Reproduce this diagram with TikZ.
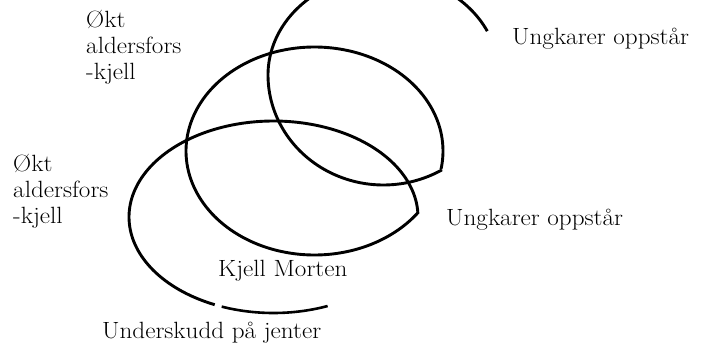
\documentclass[tikz,border=0pt]{standalone}
\begin{document}
\begin{tikzpicture}[x=1pt,y=-1pt,
  spiral/.style={line width=2.9pt, line join=round, line cap=butt},
  lbl/.style={inner sep=0pt, font=\fontsize{23.5}{26}\selectfont, align=left, xscale=1.07, transform shape}]
\useasboundingbox (0,0) rectangle (702,343);
\begin{scope}
\clip (0,0) rectangle (702,343);
% loop A (top): centre (383.5,75), rx 115.5, ry 100 above / 110 below
\draw[spiral] plot[smooth, domain=26:300.4, samples=140, variable=\t]
  ({383.5+115.5*cos(\t)}, {75-(100*(\t<180)+110*(1-(\t<180)))*sin(\t)});
% loop B (middle): centre (314.5,151), rx 128.5, ry 104
\draw[spiral] plot[smooth, domain=-10:324, samples=160, variable=\t]
  ({314.5+128.5*cos(\t)}, {151-104*sin(\t)});
% loop C (bottom): centre (273.5,217), rx 144.5, ry 96
\draw[spiral] plot[smooth, domain=2.5:246, samples=130, variable=\t]
  ({273.5+144.5*cos(\t)}, {217-96*sin(\t)});
% final piece of the spiral
\draw[spiral, line width=2.6pt] plot[smooth, domain=249:292, samples=30, variable=\t]
  ({273.5+144.5*cos(\t)}, {217-96*sin(\t)});
\end{scope}
\node[lbl, anchor=north west] (okt1) at (86,9.5) {Økt\\aldersfors\\-kjell};
\node[lbl, anchor=north west] (okt2) at (13,154) {Økt\\aldersfors\\-kjell};
\node[lbl, anchor=base west] (ung1) at (512,44) {Ungkarer oppstår};
\node[lbl, anchor=base west] (ung2) at (446,225) {Ungkarer oppstår};
\node[lbl, anchor=base west] (kjell) at (218,276) {Kjell Morten};
\node[lbl, anchor=base west] (under) at (102,338) {Underskudd på jenter};
\end{tikzpicture}
\end{document}
